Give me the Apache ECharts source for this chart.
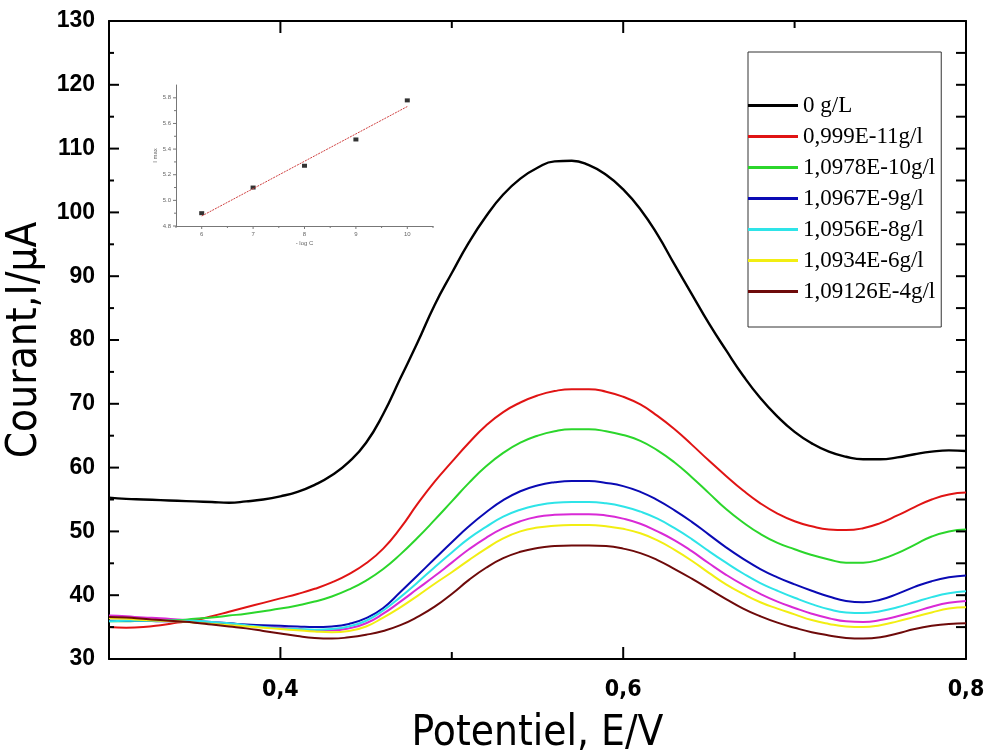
<!DOCTYPE html>
<html>
<head>
<meta charset="utf-8">
<script src="https://cdn.jsdelivr.net/npm/echarts@6/dist/echarts.min.js"></script>
<style>html,body{margin:0;padding:0;background:#fff}#c{width:984px;height:752px}</style>
</head>
<body>
<div id="c"></div>
<script>
// Potential (V), 0.30 .. 0.80 step 0.01
const potential = [
 0.30,0.31,0.32,0.33,0.34,0.35,0.36,0.37,0.38,0.39,
 0.40,0.41,0.42,0.43,0.44,0.45,0.46,0.47,0.48,0.49,
 0.50,0.51,0.52,0.53,0.54,0.55,0.56,0.57,0.58,0.59,
 0.60,0.61,0.62,0.63,0.64,0.65,0.66,0.67,0.68,0.69,
 0.70,0.71,0.72,0.73,0.74,0.75,0.76,0.77,0.78,0.79,
 0.80];
// Current (µA) for each concentration
const c0 = [
 55.3,55.1,55.0,54.9,54.8,54.7,54.6,54.5,54.7,55.0,
 55.5,56.2,57.3,58.8,60.9,63.9,68.4,74.0,79.6,85.5,
 90.5,95.3,99.4,102.8,105.3,107.0,108.0,108.1,107.4,105.9,
 103.6,100.5,96.5,91.8,87.2,82.6,78.4,74.4,70.9,68.0,
 65.6,63.8,62.5,61.7,61.3,61.3,61.6,62.1,62.5,62.7,
 62.6];
const c11 = [
 35.0,34.9,35.0,35.3,35.7,36.1,36.7,37.4,38.1,38.8,
 39.5,40.2,41.0,42.0,43.3,45.0,47.3,50.5,54.3,57.8,
 60.9,63.9,66.6,68.7,70.2,71.3,72.0,72.3,72.3,71.9,
 71.1,69.9,68.1,66.0,63.6,61.1,58.7,56.4,54.4,52.8,
 51.6,50.8,50.3,50.2,50.5,51.3,52.5,53.8,55.0,55.8,
 56.1];
const c10 = [
 35.9,35.9,36.0,36.0,36.1,36.3,36.5,36.8,37.1,37.5,
 37.9,38.4,39.0,39.8,40.9,42.3,44.1,46.4,49.0,51.8,
 54.7,57.6,60.2,62.3,63.9,65.0,65.7,66.0,66.0,65.7,
 65.1,64.2,62.7,60.8,58.5,56.0,53.5,51.4,49.6,48.2,
 47.2,46.3,45.6,45.1,45.1,45.6,46.6,47.9,49.2,50.0,
 50.3];
const c9 = [
 36.0,36.0,36.0,35.9,35.9,35.8,35.7,35.6,35.4,35.3,
 35.2,35.1,35.0,35.1,35.5,36.4,38.0,40.5,43.1,45.7,
 48.3,50.8,53.0,54.9,56.3,57.2,57.7,57.9,57.9,57.6,
 57.1,56.2,54.9,53.3,51.5,49.5,47.5,45.7,44.1,42.8,
 41.7,40.7,39.8,39.1,38.9,39.3,40.2,41.3,42.2,42.8,
 43.1];
const c8 = [
 35.9,36.0,36.0,36.0,36.0,36.0,35.8,35.6,35.3,35.0,
 34.8,34.7,34.6,34.7,35.1,36.0,37.6,39.7,42.0,44.4,
 46.7,48.9,50.7,52.3,53.4,54.1,54.5,54.6,54.6,54.4,
 53.9,53.1,52.0,50.5,48.8,46.9,45.1,43.4,41.9,40.7,
 39.6,38.6,37.8,37.3,37.2,37.5,38.1,38.9,39.7,40.3,
 40.6];
const cMagenta = [
 36.8,36.7,36.5,36.4,36.2,36.0,35.8,35.6,35.3,35.1,
 34.9,34.7,34.5,34.5,34.8,35.6,37.1,39.0,41.0,43.0,
 45.1,47.2,49.0,50.5,51.6,52.3,52.6,52.7,52.7,52.5,
 52.0,51.2,50.0,48.6,46.9,45.0,43.2,41.6,40.2,39.0,
 38.0,37.1,36.4,35.9,35.8,36.1,36.7,37.4,38.2,38.8,
 39.1];
const c6 = [
 36.4,36.3,36.1,36.0,35.9,35.7,35.5,35.3,35.1,34.9,
 34.7,34.5,34.3,34.2,34.4,35.1,36.5,38.1,39.9,41.8,
 43.6,45.5,47.3,48.9,50.0,50.6,50.9,51.0,51.0,50.8,
 50.4,49.7,48.6,47.1,45.4,43.5,41.7,40.2,38.9,37.9,
 37.0,36.1,35.5,35.1,35.0,35.3,35.9,36.6,37.3,37.9,
 38.1];
const c4 = [
 36.6,36.5,36.3,36.1,35.9,35.7,35.4,35.1,34.8,34.4,
 34.0,33.6,33.3,33.2,33.4,33.8,34.4,35.3,36.6,38.2,
 40.2,42.4,44.3,45.8,46.8,47.4,47.7,47.8,47.8,47.7,
 47.3,46.6,45.5,44.1,42.6,41.0,39.4,37.9,36.7,35.7,
 34.9,34.2,33.7,33.3,33.2,33.4,34.0,34.7,35.2,35.5,
 35.6];

const names = ['0 g/L','0,999E-11g/l','1,0978E-10g/l','1,0967E-9g/l','1,0956E-8g/l','1,0934E-6g/l','1,09126E-4g/l'];
const colors = ['#000000','#e01414','#2bd62b','#0a0ab4','#2ee4e8','#f2ee12','#6e0a0a'];
const magentaColor = '#d92ad6';

// Tick values of the main frame
const yTickValues = [35,40,45,50,55,60,65,70,75,80,85,90,95,100,105,110,115,120,125];
const xTickValues = [0.4,0.5,0.6,0.7];

// Inset: Imax vs -log C
const insetX = [6,7,8,9,10];
const insetY = [4.90,5.10,5.27,5.475,5.78];
const fitX = [6,10];
const fitY = [4.878,5.732];
const insetXTicks = [5.5,6,6.5,7,7.5,8,8.5,9,9.5,10,10.5];
const insetYTicks = [4.8,4.9,5.0,5.1,5.2,5.3,5.4,5.5,5.6,5.7,5.8];

const pairs = (xs, ys) => xs.map((x,i)=>[x, ys[i]]);
const seriesVals = [c0,c11,c10,c9,c8,c6,c4];

const narrow = "'Liberation Sans Narrow','Arial Narrow','DejaVu Sans Condensed',sans-serif";

const series = [];
series.push({name:'_m', type:'line', data:pairs(potential,cMagenta), smooth:true, showSymbol:false, symbol:'none',
  lineStyle:{color:magentaColor,width:2}, itemStyle:{color:magentaColor}, xAxisIndex:0, yAxisIndex:0, z:3});
seriesVals.forEach((v,i)=>{
  series.push({name:names[i], type:'line', data:pairs(potential,v), smooth:true, showSymbol:false, symbol:'none',
    lineStyle:{color:colors[i], width: i===0?2.4:2}, itemStyle:{color:colors[i]}, xAxisIndex:0, yAxisIndex:0, z: 4+i});
});
series.push({name:'fit', type:'line', data:pairs(fitX,fitY), xAxisIndex:2, yAxisIndex:2, showSymbol:false, symbol:'none',
  lineStyle:{color:'#d04040', width:1, type:[2,1]}});
series.push({name:'pts', type:'scatter', data:pairs(insetX,insetY), xAxisIndex:2, yAxisIndex:2, symbol:'rect', symbolSize:[5,4],
  itemStyle:{color:'#000'}});

// Frame ticks drawn through the axes' own scales (kind 0 = y tick, 1 = x tick)
const mainTickData = yTickValues.map(v=>[0.3, v, 0]).concat(xTickValues.map(v=>[v, 30, 1]));
series.push({name:'_ticks', type:'custom', coordinateSystem:'cartesian2d', xAxisIndex:0, yAxisIndex:0, clip:false, z:20,
  silent:true, data:mainTickData,
  renderItem:(params, api)=>{
    const cs = params.coordSys;
    const kind = api.value(2);
    const st = {stroke:'#000', lineWidth:2};
    if (kind === 0) {
      const v = api.value(1);
      const p = api.coord([0.3, v]);
      const major = Math.abs(v % 10) < 1e-6;
      const lenL = major ? 10 : 5;
      return {type:'group', children:[
        {type:'line', shape:{x1:cs.x, y1:p[1], x2:cs.x+lenL, y2:p[1]}, style:st},
        {type:'line', shape:{x1:cs.x+cs.width, y1:p[1], x2:cs.x+cs.width-10, y2:p[1]}, style:st}
      ]};
    }
    const v = api.value(0);
    const p = api.coord([v, 30]);
    const major = Math.abs(Math.round(v*10) % 2) === 0;
    const len = major ? 12 : 7;
    return {type:'group', children:[
      {type:'line', shape:{x1:p[0], y1:cs.y+cs.height, x2:p[0], y2:cs.y+cs.height-len}, style:st},
      {type:'line', shape:{x1:p[0], y1:cs.y, x2:p[0], y2:cs.y+len}, style:st}
    ]};
  }});
const insetTickData = insetYTicks.map(v=>[5.5, v, 0]).concat(insetXTicks.map(v=>[v, 4.8, 1]));
series.push({name:'_iticks', type:'custom', coordinateSystem:'cartesian2d', xAxisIndex:2, yAxisIndex:2, clip:false, z:20,
  silent:true, data:insetTickData,
  renderItem:(params, api)=>{
    const cs = params.coordSys;
    const kind = api.value(2);
    const st = {stroke:'#777', lineWidth:1};
    if (kind === 0) {
      const v = api.value(1);
      const p = api.coord([5.5, v]);
      const major = Math.abs(Math.round(v*10) % 2) === 0;
      const len = major ? 3 : 2;
      return {type:'line', shape:{x1:cs.x, y1:p[1], x2:cs.x-len, y2:p[1]}, style:st};
    }
    const v = api.value(0);
    const p = api.coord([v, 4.8]);
    const major = Math.abs(v - Math.round(v)) < 1e-6;
    const len = major ? 3 : 2;
    return {type:'line', shape:{x1:p[0], y1:cs.y+cs.height, x2:p[0], y2:cs.y+cs.height+len}, style:st};
  }});

const mainLine = () => ({show:true, onZero:false, lineStyle:{color:'#000', width:2}});

const chart = echarts.init(document.getElementById('c'), null, {renderer:'canvas'});
chart.setOption({
  animation:false,
  backgroundColor:'#fff',
  grid:[
    {left:109, right:18, top:21, bottom:93, outerBoundsMode:'none'},
    {left:176, top:85, width:257, height:141, outerBoundsMode:'none'}
  ],
  legend:{
    data:names, orient:'vertical', left:748, top:52,
    icon:'rect', itemWidth:50, itemHeight:3, itemGap:8,
    padding:[42,6,24,0], borderColor:'#333', borderWidth:1,
    textStyle:{fontFamily:"'Liberation Serif','Times New Roman',serif", fontSize:23, color:'#000'}
  },
  xAxis:[
    {type:'value', gridIndex:0, position:'bottom', min:0.3, max:0.8, interval:0.1,
      axisLine:mainLine(), axisTick:{show:false},
      axisLabel:{margin:20, color:'#000', fontWeight:'bold', fontSize:23, fontFamily:narrow,
        formatter:v=>{const k=Math.round(v*10); return (k%2===0 && k>3)? (k/10).toFixed(1).replace('.',','):'';}},
      splitLine:{show:false},
      name:'Potentiel, E/V', nameLocation:'middle', nameGap:54,
      nameTextStyle:{fontFamily:narrow, fontSize:42, color:'#000'}},
    {type:'value', gridIndex:0, position:'top', min:0.3, max:0.8, interval:0.1,
      axisLine:mainLine(), axisTick:{show:false},
      axisLabel:{show:false}, splitLine:{show:false}},
    {type:'value', gridIndex:1, min:5.5, max:10.5, interval:0.5,
      axisLine:{show:true, onZero:false, lineStyle:{color:'#777', width:1}},
      axisTick:{show:false},
      axisLabel:{fontSize:6, color:'#666', margin:5,
        formatter:v=>(Math.abs(v-Math.round(v))<1e-6 && v>5.9 && v<10.1)? String(Math.round(v)) : ''},
      splitLine:{show:false},
      name:'- log C', nameLocation:'middle', nameGap:14, nameTextStyle:{fontSize:6, color:'#666'}}
  ],
  yAxis:[
    {type:'value', gridIndex:0, position:'left', min:30, max:130, interval:10,
      axisLine:mainLine(), axisTick:{show:false},
      axisLabel:{margin:14, color:'#000', fontWeight:'bold', fontSize:23, fontFamily:"'Liberation Sans',Arial,sans-serif"},
      splitLine:{show:false},
      name:'Courant,I/µA', nameLocation:'middle', nameGap:44, nameRotate:90,
      nameTextStyle:{fontFamily:narrow, fontSize:42, color:'#000'}},
    {type:'value', gridIndex:0, position:'right', min:30, max:130, interval:10,
      axisLine:mainLine(), axisTick:{show:false},
      axisLabel:{show:false}, splitLine:{show:false}},
    {type:'value', gridIndex:1, min:4.8, max:5.9, interval:0.2,
      axisLine:{show:true, onZero:false, lineStyle:{color:'#777', width:1}},
      axisTick:{show:false},
      axisLabel:{fontSize:6, color:'#666', margin:5, showMaxLabel:false,
        formatter:v=>v.toFixed(1)},
      splitLine:{show:false},
      name:'I max', nameLocation:'middle', nameGap:18, nameRotate:90, nameTextStyle:{fontSize:6, color:'#666'}}
  ],
  series:series
});
</script>
</body>
</html>
